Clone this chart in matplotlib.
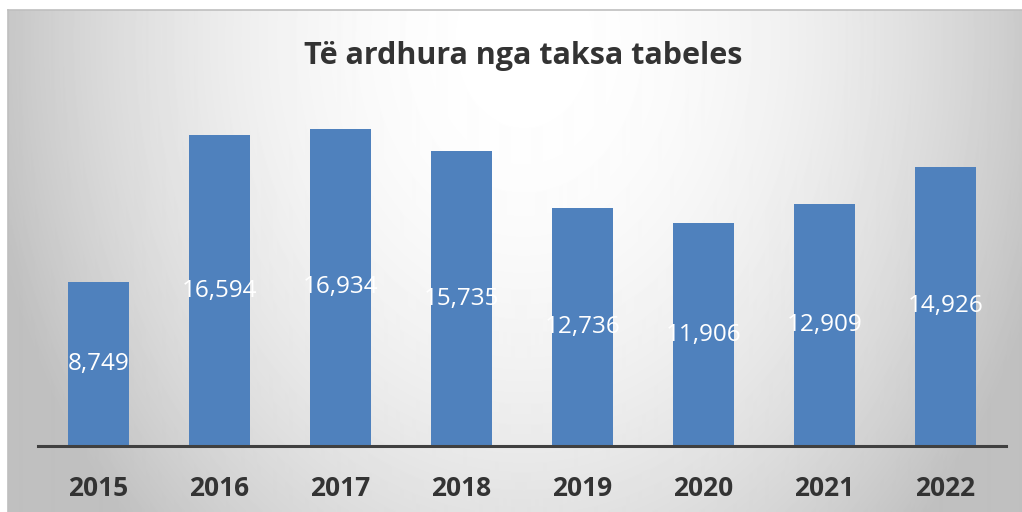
"""Bar chart: revenue from signboard tax per year."""

import matplotlib.pyplot as plt
import numpy as np

years = ["2015", "2016", "2017", "2018", "2019", "2020", "2021", "2022"]
revenue = [8749, 16594, 16934, 15735, 12736, 11906, 12909, 14926]
title = "Të ardhura nga taksa tabeles"

BAR_COLOR = "#4F81BD"
TEXT_COLOR = "#333333"
W, H = 1022, 512

plt.rcParams["font.family"] = ["Open Sans", "DejaVu Sans"]

fig = plt.figure(figsize=(W / 100, H / 100), dpi=100)

# background panel with a soft radial gradient (white centre, grey edges)
bg = fig.add_axes([8 / W, 0, 1 - 8 / W, 1 - 10 / H])
yy, xx = np.mgrid[0:502, 0:1014]
r2 = ((xx - 515) / 560.0) ** 2 + ((yy - 30) / 720.0) ** 2
shade = np.clip(1 - 0.26 * r2, 0.75, 1.0)
bg.imshow(shade, cmap="gray", vmin=0, vmax=1, aspect="auto",
          interpolation="bilinear")
bg.set_axis_off()
fig.add_artist(plt.Line2D([8 / W, 1], [1 - 10 / H, 1 - 10 / H],
                          color="#bfbfbf", lw=1.2))
fig.add_artist(plt.Line2D([8 / W, 8 / W], [0, 1 - 10 / H],
                          color="#bfbfbf", lw=1.2))

ax = fig.add_axes([38 / W, 66 / H, 968 / W, 337 / H])
ax.patch.set_alpha(0)
x = np.arange(len(years))
bars = ax.bar(x, revenue, width=0.51, color=BAR_COLOR)
ax.set_xlim(-0.5, len(years) - 0.5)
ax.set_ylim(0, 18000)

for b, v in zip(bars, revenue):
    ax.text(b.get_x() + b.get_width() / 2, v / 2, f"{v:,}",
            ha="center", va="center", color="white", fontsize=17.5)

for side in ["left", "right", "top"]:
    ax.spines[side].set_visible(False)
ax.spines["bottom"].set_color("#404040")
ax.spines["bottom"].set_linewidth(2.2)
ax.set_yticks([])
ax.set_xticks(x, years)
ax.tick_params(axis="x", length=0, pad=21, labelsize=19, labelcolor=TEXT_COLOR)
for lbl in ax.get_xticklabels():
    lbl.set_fontweight("bold")

fig.text(523 / W, 1 - 56 / H, title, ha="center", va="center",
         fontsize=22, fontweight="bold", color=TEXT_COLOR)

fig.savefig("out.png", dpi=100)
